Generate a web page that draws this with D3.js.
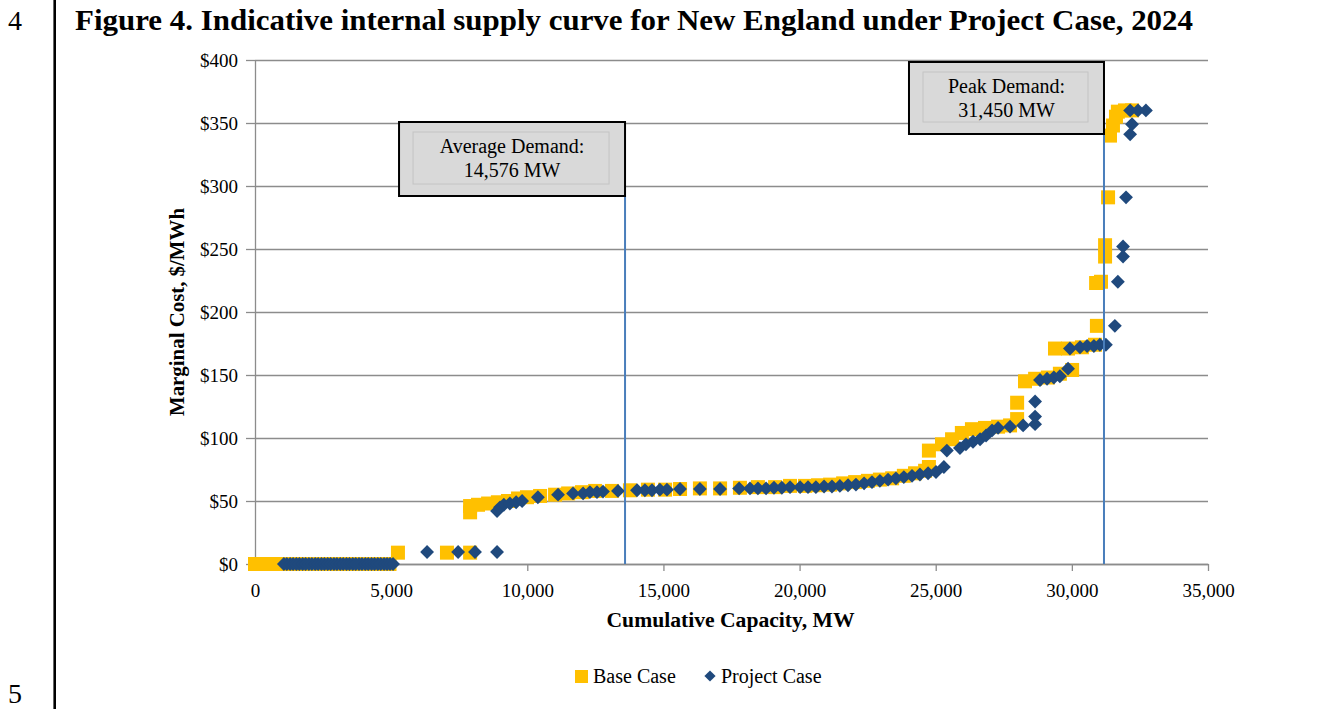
<!DOCTYPE html>
<meta charset="utf-8">

<style> /* chart styles */

body { margin: 0; background: #fff; }
text { font-family: "Liberation Serif", "Times New Roman", serif; fill: #000; }
.grid line { stroke: #8c8c8c; stroke-width: 1.3px; }
.grid .domain { display: none; }
.axis .domain, .axis line { stroke: #8c8c8c; stroke-width: 1.3px; }
.axis text { font-size: 19px; font-family: "Liberation Serif", serif; }
.demand { stroke: #4a7ebb; stroke-width: 2px; }
.box { fill: #d9d9d9; stroke: #000; stroke-width: 2px; }
.inner { fill: none; stroke: #c4c4c4; stroke-width: 1px; }

</style>

<body>

<!-- load the d3.js library -->
<script src="https://d3js.org/d3.v7.min.js"></script>

<script>

	// tick values
	var xTicks = [0, 5000, 10000, 15000, 20000, 25000, 30000, 35000];
	var yTicks = [0, 50, 100, 150, 200, 250, 300, 350, 400];

	// Base Case: [cumulative MW, $/MWh]
	var baseCase = [
		[0,0],[130,0],[270,0],[410,0],[540,0],[680,0],[820,0],[950,0],[1090,0],[1230,0],
		[1370,0],[1500,0],[1640,0],[1780,0],[1920,0],[2050,0],[2190,0],[2330,0],[2470,0],
		[2600,0],[2740,0],[2880,0],[3020,0],[3150,0],[3290,0],[3430,0],[3570,0],[3700,0],
		[3840,0],[3980,0],[4120,0],[4250,0],[4390,0],[4530,0],[4670,0],[4800,0],[4940,0],
		[5250,9],[7050,9],[7900,9],
		[7900,41],[7900,46],[8190,47],[8560,48],[8920,49],[9290,50],[9660,52],[9990,53],
		[10470,54],[11020,55],[11500,56],[12010,57],[12490,58],[13110,58],[13770,58.5],
		[14430,59],[15060,59],[15610,59.5],[16340,60],[17080,60],[17810,60.5],[18470,61],
		[19100,61],[19650,62],[20200,62],[20680,62.5],[21120,63],[21600,64],[22040,65],
		[22510,66],[22950,67],[23400,68],[23830,70],[24240,72],[24610,74],
		[24750,77],[24750,90],[25230,95],[25600,99],[25960,104],[26330,107],[26810,108],
		[27290,109],[27730,110],[27990,115],[27990,128],
		[28280,145],[28650,147],[29120,148],[29560,151],[30010,154],
		[29380,171],[29860,171],[30370,172],[30850,174],
		[30920,189],[30890,223],[31070,224],[31220,244],[31220,253],[31330,291],
		[31400,340],[31510,348],[31620,355],[31690,359],[31950,360],[32210,360]
	];

	// Project Case: [cumulative MW, $/MWh]
	var projectCase = [
		[1060,0],[1170,0],[1290,0],[1400,0],[1520,0],[1630,0],[1750,0],[1860,0],[1980,0],
		[2090,0],[2210,0],[2320,0],[2440,0],[2550,0],[2670,0],[2780,0],[2900,0],[3010,0],
		[3130,0],[3240,0],[3360,0],[3470,0],[3590,0],[3700,0],[3820,0],[3930,0],[4050,0],
		[4160,0],[4280,0],[4390,0],[4510,0],[4620,0],[4740,0],[4850,0],[4960,0],[5070,0],
		[6320,9.5],[7460,9.5],[8080,9.5],[8890,9.5],
		[8890,42],[9000,45],[9140,47],[9360,48],[9590,49],[9810,50],[10390,53],[11130,55],
		[11680,56],[12050,56],[12300,57],[12560,57],[12780,57.5],[13330,58],[14030,58.5],
		[14320,58.5],[14580,58.5],[14870,59],[15130,59],[15610,59.5],[16340,59.5],
		[17080,59.5],[17780,60],[18180,60],[18470,60],[18770,60],[19060,60.5],[19350,60.5],
		[19650,61],[20020,61],[20310,61],[20600,61],[20900,61.5],[21190,61.5],[21480,62],
		[21780,62.5],[22070,63],[22370,64],[22660,65],[22950,66],[23250,67],[23540,68],
		[23830,69],[24130,70],[24420,71],[24720,72],[25010,73],[25300,77],
		[25410,90],[25890,92],[26110,95],[26370,97],[26630,99],[26850,102],[27070,106],
		[27290,108],[27730,109],[28210,110],[28650,111],[28650,117],[28650,129],
		[28830,146],[29090,147],[29340,148],[29560,149],[29860,155],
		[29930,171],[30300,172],[30560,173],[30810,173],[31030,174],[31250,174],
		[31580,189],[31690,224],[31880,244],[31880,252],[31990,291],
		[32140,341],[32210,349],[32140,360],[32430,360],[32720,360]
	];

	// demand markers
	var demandNames = ["Average Demand:", "Peak Demand:"];
	var demandLabels = ["14,576 MW", "31,450 MW"];
	var demandMW = [13590, 31180];

	// set the dimensions and margins of the graph
	var margin = {top: 60, right: 127, bottom: 145, left: 255},
	    width = 1335 - margin.left - margin.right,
	    height = 709 - margin.top - margin.bottom;

	var x = d3.scaleLinear().domain([0, 35000]).range([0, width]);
	var y = d3.scaleLinear().domain([0, 400]).range([height, 0]);

	var root = d3.select("body").append("svg")
		.attr("width", 1335)
		.attr("height", 709);

	// page furniture: line numbers, left rule, title
	root.append("text").attr("x", 8).attr("y", 30).style("font-size", "28px").text("4");
	root.append("text").attr("x", 8).attr("y", 703).style("font-size", "28px").text("5");
	root.append("line").attr("x1", 54.7).attr("x2", 54.7).attr("y1", 0).attr("y2", 709)
		.attr("stroke", "#000").attr("stroke-width", 2.6);
	root.append("text").attr("x", 75).attr("y", 30)
		.attr("textLength", 1118).attr("lengthAdjust", "spacingAndGlyphs")
		.style("font-size", "29px").style("font-weight", "bold")
		.text("Figure 4. Indicative internal supply curve for New England under Project Case, 2024");

	var svg = root.append("g")
		.attr("transform", "translate(" + margin.left + "," + margin.top + ")");

	// gridlines
	svg.append("g").attr("class", "grid")
		.call(d3.axisLeft(y).tickValues(yTicks).tickSize(-width).tickFormat(""));

	// axes
	svg.append("g").attr("class", "axis")
		.attr("transform", "translate(0," + height + ")")
		.call(d3.axisBottom(x).tickValues(xTicks).tickSize(7).tickSizeOuter(0).tickFormat(d3.format(",")))
		.call(function(g) { g.selectAll("text").attr("y", 20); });

	svg.append("g").attr("class", "axis")
		.call(d3.axisLeft(y).tickValues(yTicks).tickSize(9).tickSizeOuter(0).tickFormat(function(d) { return "$" + d; }))
		.call(function(g) { g.selectAll("text").attr("x", -17); });

	// axis titles
	svg.append("text")
		.attr("x", width / 2 - 1).attr("y", 567)
		.attr("text-anchor", "middle")
		.attr("textLength", 248).attr("lengthAdjust", "spacingAndGlyphs")
		.style("font-size", "20px").style("font-weight", "bold")
		.text("Cumulative Capacity, MW");

	svg.append("text")
		.attr("transform", "translate(-71," + (height / 2) + ") rotate(-90)")
		.attr("text-anchor", "middle")
		.attr("textLength", 208).attr("lengthAdjust", "spacingAndGlyphs")
		.style("font-size", "20px").style("font-weight", "bold")
		.text("Marginal Cost, $/MWh");

	// the points
	var square = d3.symbol().type(d3.symbolSquare).size(196);
	var diamond = d3.symbol().type(d3.symbolDiamond2).size(122);

	svg.append("g").selectAll("path")
		.data(baseCase)
		.enter().append("path")
		.attr("d", square)
		.attr("fill", "#ffc000")
		.attr("transform", function(d) { return "translate(" + x(d[0]) + "," + y(d[1]) + ")"; });

	svg.append("g").selectAll("path")
		.data(projectCase)
		.enter().append("path")
		.attr("d", diamond)
		.attr("fill", "#1f497d")
		.attr("transform", function(d) { return "translate(" + x(d[0]) + "," + y(d[1]) + ")"; });

	// demand lines with callout boxes
	var boxW = [226, 195], boxH = [74, 72], boxTop = [62, 2];
	demandMW.forEach(function(mw, i) {
		var lx = x(mw);
		svg.append("line").attr("class", "demand")
			.attr("x1", lx).attr("x2", lx)
			.attr("y1", boxTop[i] + boxH[i]).attr("y2", height);
		svg.append("rect").attr("class", "box")
			.attr("x", lx - boxW[i]).attr("y", boxTop[i])
			.attr("width", boxW[i]).attr("height", boxH[i]);
		svg.append("rect").attr("class", "inner")
			.attr("x", lx - boxW[i] + 14).attr("y", boxTop[i] + 10)
			.attr("width", boxW[i] - 30).attr("height", boxH[i] - 22);
		svg.append("text").attr("x", lx - boxW[i] / 2).attr("y", boxTop[i] + 31)
			.attr("text-anchor", "middle").style("font-size", "20px").text(demandNames[i]);
		svg.append("text").attr("x", lx - boxW[i] / 2).attr("y", boxTop[i] + 55)
			.attr("text-anchor", "middle").style("font-size", "20px").text(demandLabels[i]);
	});

	// legend
	var legend = root.append("g");
	legend.append("rect").attr("x", 575).attr("y", 670).attr("width", 13).attr("height", 13)
		.attr("fill", "#ffc000");
	legend.append("text").attr("x", 593).attr("y", 683).style("font-size", "20px").text("Base Case");
	legend.append("path").attr("d", d3.symbol().type(d3.symbolDiamond2).size(80))
		.attr("transform", "translate(710,676)").attr("fill", "#1f497d");
	legend.append("text").attr("x", 721).attr("y", 683).style("font-size", "20px").text("Project Case");

</script>
</body>
